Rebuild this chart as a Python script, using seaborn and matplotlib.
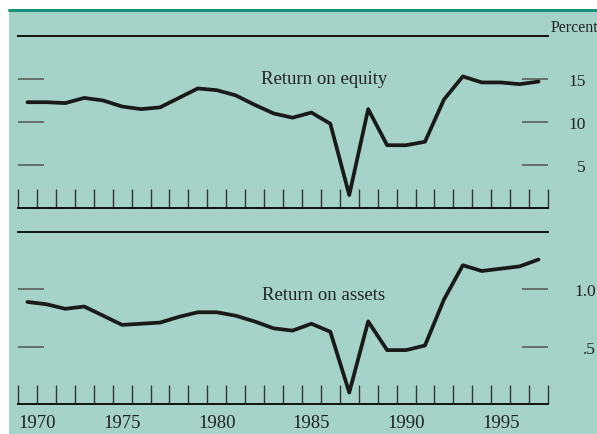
import numpy as np
import pandas as pd
import matplotlib
matplotlib.use("Agg")
import matplotlib.pyplot as plt
import matplotlib.transforms as mtransforms
from matplotlib.patches import Rectangle
from matplotlib.lines import Line2D
import seaborn as sns

years = list(range(1970, 1998))
roe = [12.3, 12.3, 12.2, 12.8, 12.5, 11.8, 11.5, 11.7, 12.8, 13.9,
       13.7, 13.1, 12.0, 11.0, 10.5, 11.1, 9.8, 1.5, 11.5, 7.3,
       7.3, 7.7, 12.6, 15.3, 14.6, 14.6, 14.4, 14.7]
roa = [0.89, 0.87, 0.83, 0.85, 0.77, 0.69, 0.70, 0.71, 0.76, 0.80,
       0.80, 0.77, 0.72, 0.66, 0.64, 0.70, 0.63, 0.10, 0.72, 0.47,
       0.47, 0.51, 0.91, 1.21, 1.16, 1.18, 1.20, 1.26]
roe_ticks = [5, 10, 15]
roe_labels = ["5", "10", "15"]
roa_ticks = [0.5, 1.0]
roa_labels = [".5", "1.0"]
year_ticks = [1970, 1975, 1980, 1985, 1990, 1995]
year_labels = ["1970", "1975", "1980", "1985", "1990", "1995"]

df = pd.DataFrame({"year": years, "roe": roe, "roa": roa})

sns.set_style("white")
plt.rcParams["font.family"] = ["Liberation Serif", "DejaVu Serif"]

BG = "#a6d3c9"
TEAL = "#17937d"
W, H = 597, 435
fig = plt.figure(figsize=(W / 100, H / 100), dpi=100, facecolor="white")

fig.patches.append(Rectangle((9 / W, 0), 1, (H - 11) / H, transform=fig.transFigure,
                             facecolor=BG, edgecolor="none", zorder=-10))
fig.lines.append(Line2D([9 / W, 1], [(H - 11) / H] * 2, transform=fig.transFigure,
                        color=TEAL, lw=2.2, zorder=-5))

left = 18 / W
width = (548 - 18) / W
ax1 = fig.add_axes([left, 1 - 209 / H, width, (209 - 37) / H])
ax2 = fig.add_axes([left, 1 - 405 / H, width, (405 - 233) / H])

specs = [
    (ax1, "roe", (0, 20), roe_ticks, roe_labels, "Return on equity", 15.0, 27),
    (ax2, "roa", (0, 1.5), roa_ticks, roa_labels, "Return on assets", 0.955, 34.5),
]

for ax, col, ylim, yt, yl, title, ty, pad in specs:
    ax.set_facecolor("none")
    ax.set_zorder(2)
    sns.lineplot(data=df, x="year", y=col, ax=ax, color="#1a1a1a", lw=2.7)
    ax.set_xlim(1969.5, 1997.5)
    ax.set_ylim(*ylim)
    ax.set_xlabel("")
    ax.set_ylabel("")
    for s in ["left", "right"]:
        ax.spines[s].set_visible(False)
    for s in ["top", "bottom"]:
        ax.spines[s].set_visible(True)
        ax.spines[s].set_color("#111111")
        ax.spines[s].set_linewidth(1.4)
    ax.set_yticks(yt)
    ax.set_yticklabels(yl)
    ax.tick_params(axis="y", which="major", direction="in", length=18.5, width=1.1,
                   color="#555555", left=True, right=True, labelleft=False,
                   labelright=True, pad=pad, labelsize=12.5, labelcolor="#222222")
    for lab in ax.get_yticklabels():
        lab.set_horizontalalignment("right")
    ax.set_xticks(np.arange(1969.5, 1998.0, 1.0), minor=True)
    ax.tick_params(axis="x", which="minor", direction="in", length=14, width=1.0,
                   color="#333333", bottom=True, top=False)
    ax.text(1985.65, ty, title, ha="center", va="center", fontsize=13.5, color="#222222")

ax1.set_xticks([])
ax1.tick_params(axis="x", which="major", length=0, labelbottom=False)
ax1.text(1.005, 1.05, "Percent", transform=ax1.transAxes, ha="left", va="center",
         fontsize=11.5, color="#222222")

ax2.set_xticks(year_ticks)
ax2.set_xticklabels(year_labels)
ax2.tick_params(axis="x", which="major", length=0, pad=7.5, labelsize=13.5,
                labelcolor="#222222")
first = ax2.get_xticklabels()[0]
first.set_transform(first.get_transform() +
                    mtransforms.ScaledTranslation(9.5 / 100, 0, fig.dpi_scale_trans))

fig.savefig("out.png", dpi=100, facecolor="white")
